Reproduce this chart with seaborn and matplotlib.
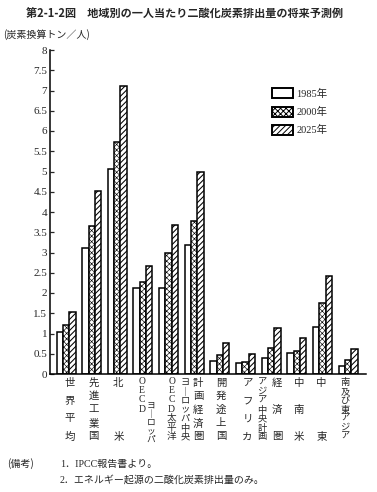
import matplotlib
matplotlib.use("Agg")
import matplotlib.pyplot as plt
import matplotlib.transforms as mtransforms
from matplotlib.patches import Patch
import seaborn as sns
import pandas as pd

# ---- data ----
regions = ["世界平均", "先進工業国", "北米", "OECDヨーロッパ", "OECD太平洋",
           "ヨーロッパ中央計画経済圏", "開発途上国", "アフリカ", "アジア中央計画経済圏",
           "中南米", "中東", "南及び東アジア"]
years = ["1985年", "2000年", "2025年"]
v1985 = [1.03, 3.10, 5.07, 2.12, 2.12, 3.18, 0.32, 0.26, 0.40, 0.52, 1.17, 0.19]
v2000 = [1.20, 3.65, 5.73, 2.27, 3.00, 3.77, 0.47, 0.29, 0.63, 0.57, 1.76, 0.34]
v2025 = [1.53, 4.53, 7.10, 2.67, 3.67, 5.00, 0.77, 0.49, 1.13, 0.88, 2.41, 0.62]
yticks = [0, 0.5, 1, 1.5, 2, 2.5, 3, 3.5, 4, 4.5, 5, 5.5, 6, 6.5, 7, 7.5, 8]
ytick_labels = ["0", "0.5", "1", "1.5", "2", "2.5", "3", "3.5", "4", "4.5",
                "5", "5.5", "6", "6.5", "7", "7.5", "8"]
# vertical category label columns: (text, dx px, top y px, bottom y px)
label_cols = [
    [("世界平均", 4, 383, 437)],
    [("先進工業国", 2, 383, 437)],
    [("北米", 1, 383, 437)],
    [("OECD", -1, 381, 409), ("ヨ｜ロッパ", 8, 406, 440)],
    [("OECD太平洋", 3, 381, 437)],
    [("ヨ｜ロッパ中央", -9, 383, 437), ("計画経済圏", 4, 383, 437)],
    [("開発途上国", 1, 383, 437)],
    [("アフリカ", 2, 383, 437)],
    [("アジア中央計画", -9, 383, 437), ("経済圏", 6, 383, 437)],
    [("中南米", 2, 383, 437)],
    [("中東", -1, 383, 437)],
    [("南及び東アジア", -3, 383, 437)],
]

df = pd.DataFrame({
    "region": regions * 3,
    "year": [years[0]] * 12 + [years[1]] * 12 + [years[2]] * 12,
    "value": v1985 + v2000 + v2025,
})

sns.set_theme(style="ticks")
plt.rcParams["font.family"] = ["Liberation Serif", "Noto Sans CJK JP", "DejaVu Sans"]
plt.rcParams["hatch.linewidth"] = 0.7
plt.rcParams["hatch.color"] = "black"

W, H = 377, 492
fig = plt.figure(figsize=(W / 100, H / 100), dpi=100)
ax = fig.add_axes([50 / W, 1 - 374 / H, (366 - 50) / W, (374 - 50) / H])

sns.barplot(data=df, x="region", y="value", hue="year", order=regions,
            hue_order=years, palette=["white"] * 3, width=0.74, gap=0,
            edgecolor="black", linewidth=1.1, ax=ax, legend=False)

hatches = ["", "xxxxxx", "//////"]
hatch_lw = [0.7, 0.45, 0.75]
for cont, h, hl in zip(ax.containers, hatches, hatch_lw):
    for p in cont:
        p.set_facecolor("white")
        p.set_edgecolor("black")
        p.set_hatch(h)
        p.set_linewidth(1.1)
        if hasattr(p, "set_hatch_linewidth"):
            p.set_hatch_linewidth(hl)

ax.set_xlim(-0.625, 11.7)
ax.set_ylim(0, 8)
ax.set_yticks(yticks)
ax.set_yticklabels(ytick_labels, fontsize=8, family=["Liberation Serif"])
ax.set_xticks([])
ax.set_xlabel("")
ax.set_ylabel("")
ax.tick_params(axis="y", direction="in", length=3, width=0.9, pad=2)
for s in ["top", "right"]:
    ax.spines[s].set_visible(False)
for s in ["left", "bottom"]:
    ax.spines[s].set_linewidth(1.1)
    ax.spines[s].set_color("black")

# category labels, stacked vertically
blend = mtransforms.blended_transform_factory(ax.transData, fig.transFigure)
for i, cols in enumerate(label_cols):
    for text, dx, ytop, ybot in cols:
        n = len(text)
        step = (ybot - ytop) / (n - 1) if n > 1 else 12
        fs = min(7.5, step * 0.74)
        tr = mtransforms.offset_copy(blend, fig=fig, x=dx, y=0, units="dots")
        for k, ch in enumerate(text):
            ypx = ytop + step * k
            ax.text(i, 1 - ypx / H, ch, transform=tr, ha="center", va="center",
                    fontsize=fs, family=["Liberation Serif", "Noto Sans CJK JP"],
                    clip_on=False)

# legend
handles = [Patch(facecolor="white", edgecolor="black", hatch=h, linewidth=1.4)
           for h in hatches]
ax.legend(handles, years, loc="upper left", bbox_to_anchor=(268 / W, 1 - 84 / H),
          bbox_transform=fig.transFigure, frameon=False,
          handlelength=2.0, handleheight=1.1, handletextpad=0.3,
          labelspacing=0.75, borderaxespad=0,
          prop={"family": ["Liberation Serif", "Noto Sans CJK JP"], "size": 7.5})

# title and annotations
fig.text(185 / W, 1 - 14 / H, "第2-1-2図　地域別の一人当たり二酸化炭素排出量の将来予測例",
         ha="center", va="center", fontsize=8, fontweight="bold",
         family=["Noto Sans CJK JP"])
fig.text(3 / W, 1 - 35 / H, "(炭素換算トン／人)", ha="left", va="center",
         fontsize=7.2, family=["Noto Sans CJK JP"])
fig.text(7 / W, 1 - 464 / H, "(備考)", ha="left", va="center",
         fontsize=7.2, family=["Noto Sans CJK JP"])
fig.text(60 / W, 1 - 464 / H, "1．IPCC報告書より。", ha="left", va="center",
         fontsize=7.2, family=["Liberation Serif", "Noto Sans CJK JP"])
fig.text(60 / W, 1 - 480 / H, "2．エネルギー起源の二酸化炭素排出量のみ。", ha="left",
         va="center", fontsize=7.2, family=["Liberation Serif", "Noto Sans CJK JP"])

fig.savefig("out.png", dpi=100)
